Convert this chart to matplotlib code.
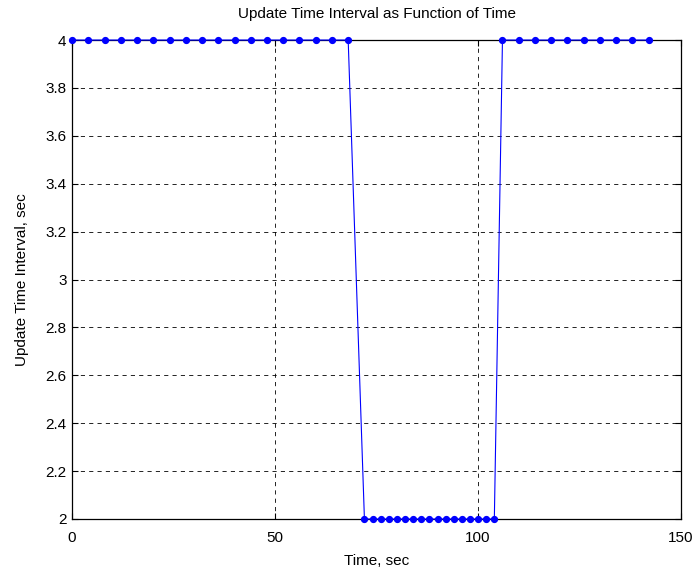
import matplotlib.pyplot as plt
import numpy as np

plt.rcParams['font.family'] = ['Liberation Sans', 'DejaVu Sans']

# update times (sec) and the interval used at each one
t_slow1 = list(range(0, 69, 4))
t_fast = list(range(72, 105, 2))
t_slow2 = list(range(106, 143, 4))
interval_slow = 4
interval_fast = 2

t = np.array(t_slow1 + t_fast + t_slow2)
dt = np.array([interval_slow] * len(t_slow1) + [interval_fast] * len(t_fast)
              + [interval_slow] * len(t_slow2))

fig = plt.figure(figsize=(7.0, 5.72), dpi=100)
ax = fig.add_axes([0.103, 0.0927, 0.870, 0.8373])

ax.plot(t, dt, color='blue', lw=0.8, marker='o', ms=4.2, mfc='blue', mec='blue',
        clip_on=False, zorder=3)

ax.set_xlim(0, 150)
ax.set_ylim(2, 4)
ax.set_xticks([0, 50, 100, 150])
ax.set_yticks(np.arange(2, 4.01, 0.2))
ax.set_yticklabels(['2', '2.2', '2.4', '2.6', '2.8', '3', '3.2', '3.4', '3.6', '3.8', '4'])
ax.tick_params(direction='in', top=True, right=True, labelsize=11, length=4)
ax.tick_params(axis='x', pad=9)
ax.tick_params(axis='y', pad=4)
ax.grid(True, color='black', linestyle=(0, (5, 5)), linewidth=0.6)
for s in ax.spines.values():
    s.set_linewidth(0.9)

ax.set_title('Update Time Interval as Function of Time', fontsize=11, pad=16)
ax.set_xlabel('Time, sec', fontsize=11, labelpad=6)
ax.set_ylabel('Update Time Interval, sec', fontsize=11, labelpad=12)

fig.savefig('out.png', dpi=100)
